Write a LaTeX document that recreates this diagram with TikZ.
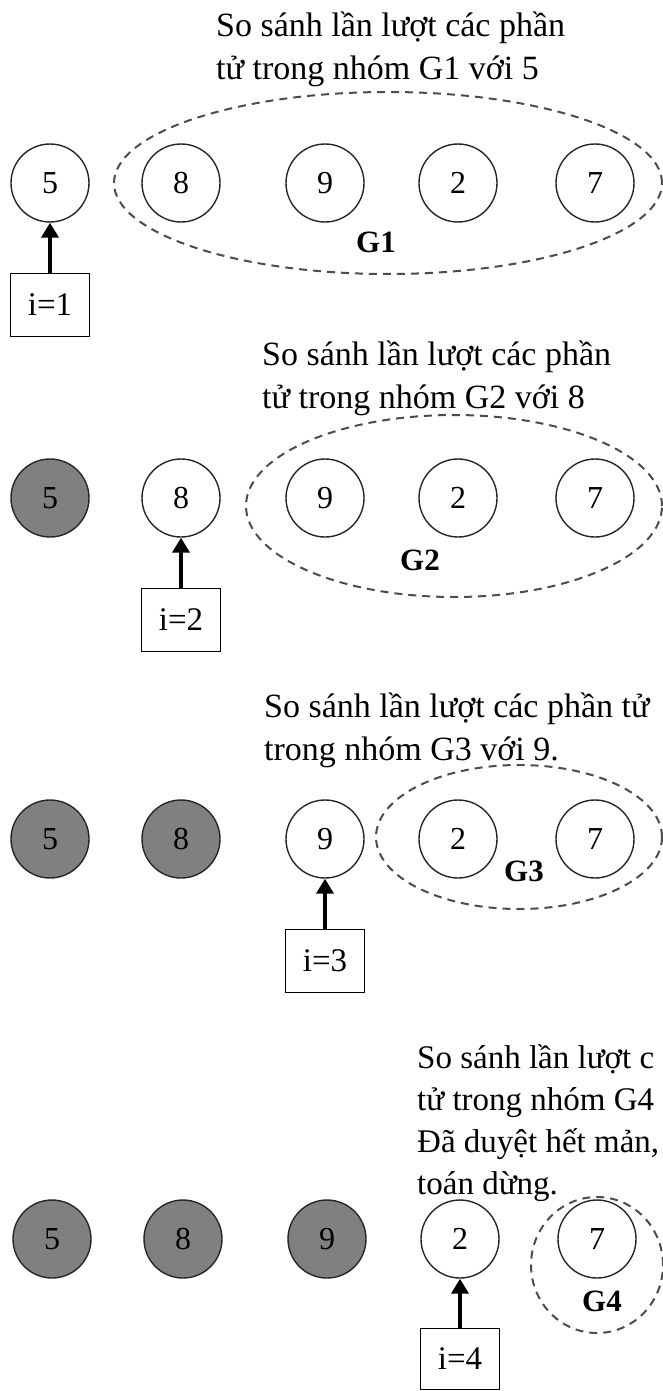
\documentclass[tikz,border=0pt]{standalone}
\usepackage{fontspec}
\setmainfont{Liberation Serif}
\usetikzlibrary{arrows.meta}
\begin{document}
\begin{tikzpicture}[x=1pt,y=-1pt,
  elem/.style={circle,draw=black!85,line width=1.4pt,minimum size=78pt,inner sep=0pt,font=\fontsize{32}{32}\selectfont},
  done/.style={elem,fill=black!50},
  idx/.style={draw,line width=1.4pt,minimum width=79pt,minimum height=63pt,inner sep=0pt,font=\fontsize{33}{33}\selectfont},
  grp/.style={draw=black!70,line width=2pt,dash pattern=on 8pt off 6pt},
  glab/.style={font=\fontsize{31}{31}\selectfont\bfseries,inner sep=0pt},
  txt/.style={anchor=base west,inner sep=0pt,font=\fontsize{34}{34}\selectfont},
  txtb/.style={txt,font=\fontsize{33}{33}\selectfont},
  ptr/.style={line width=4.5pt,-{Triangle[width=17pt,length=15pt]}}]
\useasboundingbox (0,0) rectangle (663,1391);
\clip (0,0) rectangle (663,1391);
\fill[white] (0,0) rectangle (663,1391);

% ---------- row 1 ----------
\node[txt] (t1a) at (216,37) {So sánh lần lượt các phần};
\node[txt] (t1b) at (216,80) {tử trong nhóm G1 với 5};
\draw[grp] (388,183) ellipse [x radius=274pt,y radius=91pt];
\node[elem] (r1a) at (50,183) {5};
\node[elem] (r1b) at (181,183) {8};
\node[elem] (r1c) at (325,183) {9};
\node[elem] (r1d) at (458,183) {2};
\node[elem] (r1e) at (595,183) {7};
\node[glab] (g1) at (376,242) {G1};
\node[idx] (b1) at (50,305) {i=1};
\draw[ptr] (b1) -- (r1a);

% ---------- row 2 ----------
\node[txt] (t2a) at (262,365) {So sánh lần lượt các phần};
\node[txt] (t2b) at (262,408) {tử trong nhóm G2 với 8};
\draw[grp] (454,506) ellipse [x radius=208pt,y radius=91pt];
\node[done] (r2a) at (50,498) {5};
\node[elem] (r2b) at (181,498) {8};
\node[elem] (r2c) at (325,498) {9};
\node[elem] (r2d) at (458,498) {2};
\node[elem] (r2e) at (595,498) {7};
\node[glab] (g2) at (420,560) {G2};
\node[idx] (b2) at (181,620) {i=2};
\draw[ptr] (b2) -- (r2b);

% ---------- row 3 ----------
\node[txt] (t3a) at (264,717) {So sánh lần lượt các phần tử};
\node[txt] (t3b) at (264,760) {trong nhóm G3 với 9.};
\draw[grp] (519,837) ellipse [x radius=143pt,y radius=72pt];
\node[done] (r3a) at (50,839) {5};
\node[done] (r3b) at (181,839) {8};
\node[elem] (r3c) at (325,839) {9};
\node[elem] (r3d) at (458,839) {2};
\node[elem] (r3e) at (595,839) {7};
\node[glab] (g3) at (524,871) {G3};
\node[idx] (b3) at (325,961) {i=3};
\draw[ptr] (b3) -- (r3c);

% ---------- row 4 ----------
\node[txtb] (t4a) at (417,1068) {So sánh lần lượt c};
\node[txtb] (t4b) at (417,1110) {tử trong nhóm G4};
\node[txtb] (t4c) at (417,1152) {Đã duyệt hết mản,};
\node[txtb] (t4d) at (417,1194) {toán dừng.};
\draw[grp] (597,1265) ellipse [x radius=66pt,y radius=68pt];
\node[done] (r4a) at (52,1239) {5};
\node[done] (r4b) at (183,1239) {8};
\node[done] (r4c) at (327,1239) {9};
\node[elem] (r4d) at (460,1239) {2};
\node[elem] (r4e) at (597,1239) {7};
\node[glab] (g4) at (602,1301) {G4};
\node[idx,minimum height=61pt] (b4) at (460,1359) {i=4};
\draw[ptr] (b4) -- (r4d);
\end{tikzpicture}
\end{document}
